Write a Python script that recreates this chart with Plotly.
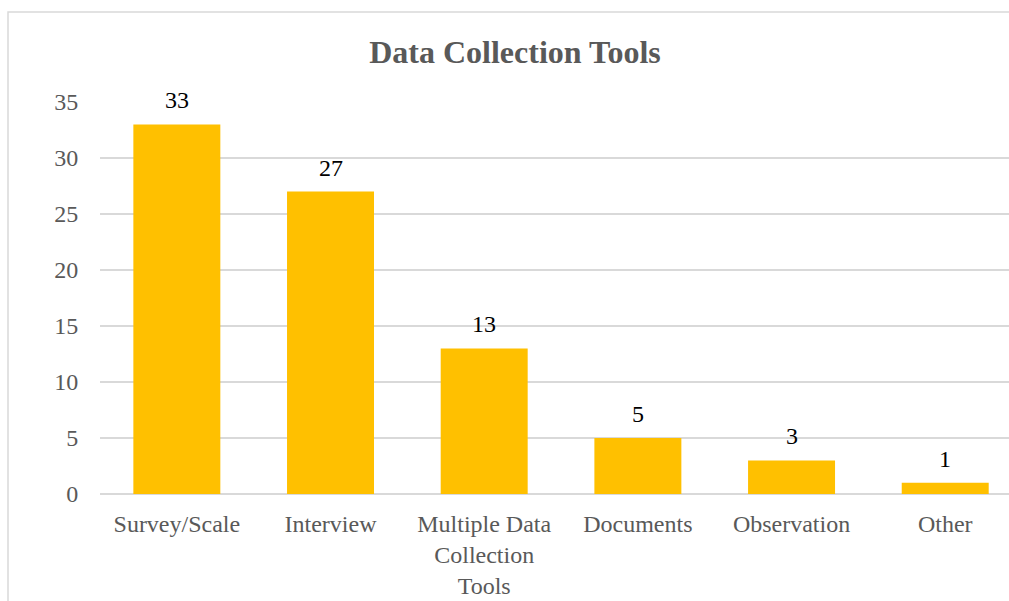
import plotly.graph_objects as go

# ---------------------------------------------------------------------------
# Data
# ---------------------------------------------------------------------------

categories = [
    "Survey/Scale",
    "Interview",
    "Multiple Data<br>Collection<br>Tools",
    "Documents",
    "Observation",
    "Other",
]
counts = [33, 27, 13, 5, 3, 1]
y_ticks = [0, 5, 10, 15, 20, 25, 30, 35]

FONT = "Liberation Serif, Times New Roman, serif"
GREY_TEXT = "#595959"
GRID = "#D9D9D9"
BAR = "#FFC000"

fig = go.Figure()
fig.add_trace(
    go.Bar(
        x=categories,
        y=counts,
        marker=dict(color=BAR, line=dict(width=0)),
        width=0.566,
        hoverinfo="x+y",
    )
)

# Excel-style "outside end" data labels
for cat, val in zip(categories, counts):
    fig.add_annotation(
        x=cat,
        y=val,
        text=str(val),
        showarrow=False,
        yanchor="bottom",
        yshift=9,
        font=dict(family=FONT, size=24, color="black"),
    )

# chart-area border (cropped on the right and bottom like the reference)
fig.add_shape(
    type="rect",
    xref="paper",
    yref="paper",
    x0=-0.1012,
    x1=1.05,
    y0=-0.6,
    y1=1.2296,
    line=dict(color=GRID, width=1.5),
    fillcolor="rgba(0,0,0,0)",
    layer="below",
)

# the reference is cropped on the right: the category axis runs past the edge
fig.update_layout(
    width=1009,
    height=601,
    plot_bgcolor="white",
    paper_bgcolor="white",
    margin=dict(l=100, r=0, t=102, b=107),
    showlegend=False,
    title=dict(
        text="<b>Data Collection Tools</b>",
        x=515 / 1009,
        xref="container",
        xanchor="center",
        y=0.913,
        yanchor="middle",
        font=dict(family=FONT, size=32, color=GREY_TEXT),
    ),
    xaxis=dict(
        range=[-0.5, 5.415],
        showgrid=False,
        showline=False,
        ticks="outside",
        ticklen=8,
        tickcolor="rgba(0,0,0,0)",
        tickfont=dict(family=FONT, size=24, color=GREY_TEXT),
    ),
    yaxis=dict(
        range=[0, 35],
        tickvals=y_ticks,
        showgrid=True,
        gridcolor=GRID,
        gridwidth=1.5,
        zeroline=True,
        zerolinecolor=GRID,
        zerolinewidth=1.5,
        showline=False,
        ticks="outside",
        ticklen=16,
        tickcolor="rgba(0,0,0,0)",
        tickfont=dict(family=FONT, size=24, color=GREY_TEXT),
    ),
)

fig.write_html(
    "out.html",
    config={"displayModeBar": False},
    post_script="document.body.style.margin='0';document.body.style.overflow='hidden';",
)
